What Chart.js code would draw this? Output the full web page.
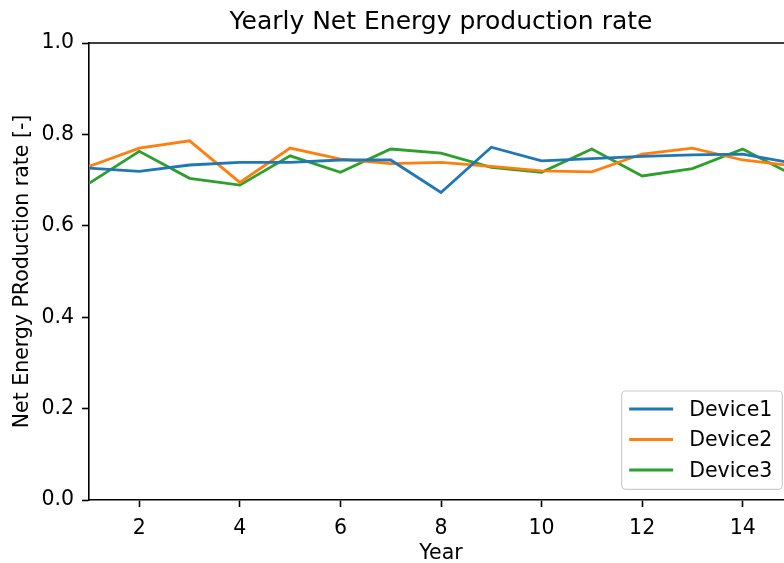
<!DOCTYPE html>
<html>
<head>
<meta charset="utf-8">
<title>Yearly Net Energy production rate</title>
<script src="https://cdn.jsdelivr.net/npm/chart.js@4.4.1/dist/chart.umd.min.js"></script>
<style>
  html, body { margin: 0; padding: 0; background: #fff; overflow: hidden; }
  #wrap { width: 784px; height: 563px; overflow: hidden; }
  canvas { display: block; }
</style>
</head>
<body>
<div id="wrap"><canvas id="chart_energy" width="882" height="563"></canvas></div>
<script>
// values
const years = [1, 2, 3, 4, 5, 6, 7, 8, 9, 10, 11, 12, 13, 14, 15];
const device1 = [0.726, 0.719, 0.733, 0.739, 0.739, 0.744, 0.744, 0.673, 0.772, 0.742, 0.747, 0.752, 0.755, 0.757, 0.737];
const device2 = [0.730, 0.770, 0.786, 0.695, 0.770, 0.746, 0.736, 0.739, 0.730, 0.720, 0.718, 0.757, 0.770, 0.744, 0.731];
const device3 = [0.693, 0.763, 0.704, 0.689, 0.753, 0.717, 0.768, 0.759, 0.728, 0.717, 0.768, 0.709, 0.725, 0.768, 0.711];
const seriesLabels = ['Device1', 'Device2', 'Device3'];
const seriesColors = ['#1f77b4', '#ff7f0e', '#2ca02c'];
const xTicks = [2, 4, 6, 8, 10, 12, 14];
const yTicks = [0.0, 0.2, 0.4, 0.6, 0.8, 1.0];

const FONT = '"DejaVu Sans", "Liberation Sans", sans-serif';
const BASE = 20.5;

// top + right spines (chart.js only draws the axis borders)
const frame = {
    id: 'frame',
    afterDatasetsDraw(chart) {
        const {ctx, chartArea: a} = chart;
        ctx.save();
        ctx.strokeStyle = '#000';
        ctx.lineWidth = 1.6;
        ctx.beginPath();
        ctx.moveTo(a.left, a.top);
        ctx.lineTo(a.right, a.top);
        ctx.lineTo(a.right, a.bottom);
        ctx.stroke();
        ctx.restore();
    }
};

// legend inside the axes, lower right, like matplotlib
const insideLegend = {
    id: 'insideLegend',
    afterDatasetsDraw(chart) {
        const {ctx, chartArea: a} = chart;
        const sets = chart.data.datasets;
        ctx.save();
        ctx.font = BASE + 'px ' + FONT;
        const textW = Math.max(...sets.map(d => ctx.measureText(d.label).width));
        const w = 67.5 + textW + 10, h = 98.3;
        const right = a.right - 10.7, bottom = a.bottom - 10.7;
        const left = right - w, top = bottom - h;
        ctx.beginPath();
        ctx.roundRect(left, top, w, h, 4);
        ctx.fillStyle = 'rgba(255,255,255,0.8)';
        ctx.fill();
        ctx.strokeStyle = '#cccccc';
        ctx.lineWidth = 1.2;
        ctx.stroke();
        sets.forEach((d, i) => {
            const y = top + 18 + i * 30.5;
            ctx.beginPath();
            ctx.moveTo(left + 7.5, y);
            ctx.lineTo(left + 51.5, y);
            ctx.strokeStyle = d.borderColor;
            ctx.lineWidth = 2.8;
            ctx.stroke();
            ctx.fillStyle = '#000';
            ctx.textAlign = 'left';
            ctx.textBaseline = 'middle';
            ctx.fillText(d.label, left + 67.5, y + 1.3);
        });
        ctx.restore();
    }
};

window.onload = () => {
    Chart.defaults.color = '#000';
    Chart.defaults.font.family = FONT;

    const seriesData = [device1, device2, device3];
    const datasets = seriesData.map((vals, i) => ({
        label: seriesLabels[i],
        data: years.map((yr, j) => ({x: yr, y: vals[j]})),
        borderColor: seriesColors[i],
        backgroundColor: seriesColors[i],
        borderWidth: 2.8,
        pointRadius: 0,
        tension: 0,
        fill: false
    }));

    var ctx = document.getElementById('chart_energy').getContext('2d');
    var chart = new Chart(ctx, {
        type: 'line',
        data: {datasets: datasets},
        plugins: [frame, insideLegend],
        options: {
            responsive: false,
            animation: false,
            devicePixelRatio: 1,
            layout: {padding: 0},
            plugins: {
                legend: {display: false},
                tooltip: {enabled: false},
                title: {
                    display: true,
                    text: 'Yearly Net Energy production rate',
                    color: '#000',
                    font: {size: 25, weight: 'normal', lineHeight: 1.2},
                    padding: {top: 7.6, bottom: 5.4}
                }
            },
            scales: {
                x: {
                    type: 'linear',
                    min: 1,
                    max: 15,
                    afterBuildTicks: s => { s.ticks = xTicks.map(v => ({value: v})); },
                    afterFit: s => { s.height = 63; },
                    ticks: {font: {size: BASE}, padding: 9, maxRotation: 0, color: '#000'},
                    grid: {drawOnChartArea: false, drawTicks: true, tickLength: 7, tickColor: '#000', tickWidth: 1.6},
                    border: {display: true, color: '#000', width: 1.6},
                    title: {
                        display: true,
                        text: 'Year',
                        font: {size: BASE, lineHeight: 0.9},
                        padding: {top: 0, bottom: 0}
                    }
                },
                y: {
                    min: 0,
                    max: 1,
                    afterBuildTicks: s => { s.ticks = yTicks.map(v => ({value: v})); },
                    afterFit: s => { s.width = 89; },
                    ticks: {font: {size: BASE}, padding: 8, color: '#000', callback: v => v.toFixed(1)},
                    grid: {drawOnChartArea: false, drawTicks: true, tickLength: 7, tickColor: '#000', tickWidth: 1.6},
                    border: {display: true, color: '#000', width: 1.6},
                    title: {
                        display: true,
                        text: 'Net Energy PRoduction rate [-]',
                        font: {size: BASE},
                        padding: {top: 10.2, bottom: 0}
                    }
                },
                // empty right-hand axis: keeps the plot right edge at 793 so the title centres over the axes
                yRight: {
                    position: 'right',
                    min: 0,
                    max: 1,
                    afterFit: s => { s.width = 89; },
                    ticks: {display: false},
                    grid: {display: false},
                    border: {display: false}
                }
            }
        }
    });
};
</script>
</body>
</html>
